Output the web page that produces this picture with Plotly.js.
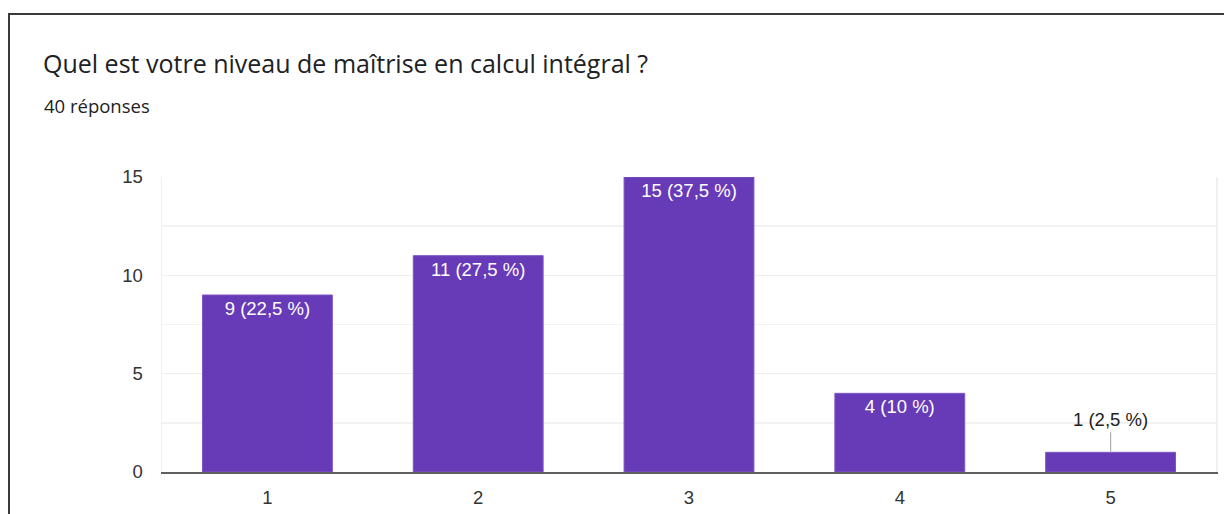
<!DOCTYPE html>
<html>
<head>
<meta charset="utf-8">
<script src="https://cdn.plot.ly/plotly-3.0.1.min.js"></script>
<style>
  html, body { margin: 0; padding: 0; background: #ffffff; }
  #chart { width: 1224px; height: 514px; }
  #frame { position: absolute; left: 8px; top: 13px; width: 1400px; height: 700px;
           border-left: 2px solid #3a3a3a; border-top: 2px solid #3a3a3a; pointer-events: none; }
</style>
</head>
<body>
<div id="chart"></div>
<div id="frame"></div>
<script>
const titleText = "Quel est votre niveau de maîtrise en calcul intégral ?";
const subtitleText = "40 réponses";
const categories = ["1", "2", "3", "4", "5"];
const counts = [9, 11, 15, 4, 1];
const totalResponses = 40;
const yTicks = [0, 5, 10, 15];

function fmtLabel(v) {
  const pct = (Math.round(v / totalResponses * 1000) / 10).toString().replace('.', ',');
  return v + " (" + pct + " %)";
}
const labels = counts.map(fmtLabel);
const insideText = counts.map((v, i) => v >= 2 ? labels[i] : "");

const trace = {
  type: 'bar',
  x: categories,
  y: counts,
  text: insideText,
  textposition: 'inside',
  insidetextanchor: 'end',
  textangle: 0,
  constraintext: 'none',
  insidetextfont: { family: 'Liberation Sans, Arial, sans-serif', size: 18.5, color: '#ffffff' },
  marker: { color: '#673ab7', line: { color: '#7e57c2', width: 1 } },
  hoverinfo: 'skip',
  cliponaxis: false
};

const annotations = [];
counts.forEach((v, i) => {
  if (v < 2) {
    annotations.push({
      x: i, y: v, xref: 'x', yref: 'y',
      text: labels[i], showarrow: true, arrowhead: 0, arrowwidth: 1.2,
      arrowcolor: '#b0b0b0', ax: 0, ay: -20, standoff: 0, yanchor: 'bottom',
      font: { family: 'Liberation Sans, Arial, sans-serif', size: 18.5, color: '#222222' }
    });
  }
});
annotations.push({
  text: subtitleText, xref: 'paper', yref: 'paper',
  x: (42 - 162) / 1054, y: 1 + (177 - 105) / 295, xanchor: 'left', yanchor: 'middle',
  showarrow: false, font: { family: 'Open Sans, Liberation Sans, sans-serif', size: 18.5, color: '#202124' }
});

const layout = {
  width: 1224, height: 514,
  margin: { l: 162, r: 8, t: 177, b: 42, pad: 0 },
  paper_bgcolor: '#ffffff', plot_bgcolor: '#ffffff',
  showlegend: false,
  bargap: 0.384,
  title: {
    text: titleText, xref: 'container', yref: 'container',
    x: 43 / 1224, xanchor: 'left', y: 1 - 64 / 514, yanchor: 'middle',
    font: { family: 'Open Sans, Liberation Sans, sans-serif', size: 25, color: '#202124' }
  },
  xaxis: {
    type: 'category', showgrid: false, showline: true, linecolor: '#5f5f5f', linewidth: 2,
    ticks: '', ticklabelstandoff: 8,
    tickfont: { family: 'Liberation Sans, Arial, sans-serif', size: 18.5, color: '#333333' },
    fixedrange: true
  },
  yaxis: {
    range: [0, 15], tickvals: yTicks, ticktext: yTicks.map(String),
    showgrid: true, gridcolor: '#eeeeee', gridwidth: 1.5,
    minor: { dtick: 2.5, tick0: 0, showgrid: true, gridcolor: '#f2f2f2', gridwidth: 1.5 },
    showline: true, mirror: true, linecolor: '#f0f0f0', linewidth: 1.5,
    zeroline: false, ticks: '', ticklabelstandoff: 14,
    tickfont: { family: 'Liberation Sans, Arial, sans-serif', size: 18.5, color: '#333333' },
    fixedrange: true
  },
  annotations: annotations,
  font: { family: 'Liberation Sans, Arial, sans-serif' }
};

Plotly.newPlot('chart', [trace], layout, { displayModeBar: false, staticPlot: true });
</script>
</body>
</html>
